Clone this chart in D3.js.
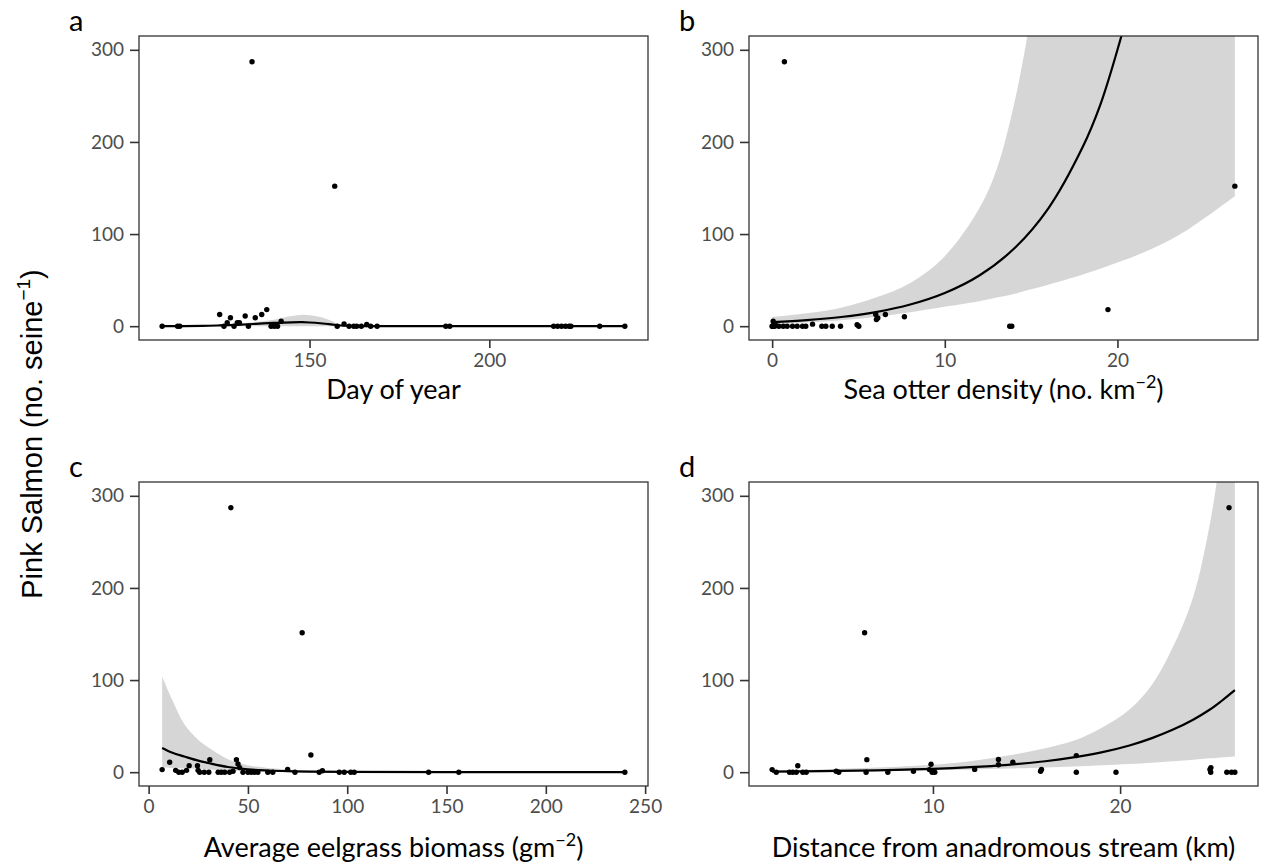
<!DOCTYPE html>
<html>
<head>
<meta charset="utf-8">
<script src="https://cdn.jsdelivr.net/npm/d3@7"></script>
<style>
  body { margin: 0; background: #fff; }
  svg text { font-family: Lato, "Open Sans", sans-serif; }
</style>
</head>
<body>
<svg id="svg" width="1263" height="865"></svg>
<script>
// counts are the same seines in every panel
var dayX = [109.0, 113.3, 113.9, 125.0, 126.2, 127.1, 128.0, 129.0, 129.9, 130.5, 132.1, 133.0, 134.0,
  134.9, 136.7, 138.1, 139.3, 139.8, 140.2, 141.1, 142.1, 157.0, 157.7, 159.6, 161.0, 162.3, 163.1,
  164.4, 165.9, 167.0, 168.8, 187.9, 189.0, 217.9, 219.0, 220.1, 221.2, 222.2, 222.7, 230.7, 237.7];
var dayY = [0, 0, 0, 12.6, 0, 3.8, 9.2, 0, 3.8, 3.8, 11, 0, 287,
  9.2, 12.6, 18, 0, 1.4, 0, 0, 5.4, 152, 0, 2.5, 0, 0, 0,
  0, 1.8, 0, 0, 0, 0, 0, 0, 0, 0, 0, 0, 0, 0];
var dayFitX = [109, 120, 125, 130, 135, 140, 145, 148, 150, 153, 156, 158, 162, 170, 200, 237.7];
var dayFit  = [0, 0.3, 0.8, 1.5, 2.5, 3.5, 4.2, 4.3, 4.0, 3.2, 2.0, 1.0, 0.4, 0.1, 0, 0];
var dayLo   = [0, 0, 0, 0, 0, 0, 0, 0, 0, 0, 0, 0, 0, 0, 0, 0];
var dayHi   = [0.5, 1.2, 2, 3, 4.5, 7, 11, 12.5, 12, 10, 6, 2.5, 1, 0.6, 0.3, 0.3];

var otterX = [0.0, 0.02, 0.06, 0.06, 0.1, 0.15, 0.2, 0.39, 0.64, 0.71, 0.87, 1.18, 1.45, 1.76, 1.95,
  2.34, 2.88, 3.11, 3.48, 3.96, 4.92, 5.02, 6.0, 6.04, 6.12, 6.56, 7.66, 13.76, 13.88, 19.45, 26.8];
var otterY = [0, 0, 5.4, 0, 2, 0, 1, 0, 0, 287, 0, 0, 0, 0, 0,
  2.2, 0, 0, 0, 0, 1.5, 0, 12.6, 7.2, 9, 12.6, 10.3, 0, 0, 18, 152];
var otterFitX = [0, 2, 4, 6, 8, 10, 12, 14, 16, 18, 19, 20, 21, 22, 24, 26.8];
var otterFit  = [4.3, 6.6, 10, 15.3, 23.5, 36, 55, 84, 128, 195, 240, 300, 370, 455, 690, 1250];
var otterBandX = [0, 2, 4, 6, 8, 10, 12, 13, 14, 15, 16, 18, 20, 22, 24, 26.8];
var otterLo   = [2.5, 4, 6.5, 10, 15, 21, 27, 31, 35, 40, 45, 56, 69, 84, 104, 141];
var otterHi   = [10, 14, 20, 31, 47, 76, 128, 170, 240, 340, 480, 800, 1300, 2000, 2000, 2000];

var eelX = [6.8, 10.6, 13.6, 15.2, 16.9, 19.1, 20.4, 24.6, 24.9, 25.7, 28.0, 30.3, 30.8, 35, 36.6,
  38.3, 40.8, 41.4, 42.5, 44.2, 45.0, 45.8, 47.5, 50, 51.7, 53.3, 55.0, 60.0, 62.5, 70, 73.7,
  77.3, 81.7, 85.9, 87.5, 96, 98.5, 101.8, 103.5, 141, 156.2, 239.8];
var eelY = [2.8, 10.8, 2, 0, 0, 2, 7.1, 7, 2, 0, 0, 0, 13.6, 0, 0,
  0, 0, 287, 1, 13.6, 9, 5, 0, 0, 0, 0, 0, 0, 0, 3, 0,
  151.4, 18.7, 0, 1.5, 0, 0, 0, 0, 0, 0, 0];
var eelFitX = [6.8, 12, 18, 25, 30, 40, 50, 60, 70, 80, 100, 150, 239.8];
var eelFit  = [26.3, 21, 17, 12.5, 10, 5.6, 3, 1.8, 1.1, 0.7, 0.3, 0.05, 0];
var eelLo   = [5, 4.5, 4, 3.5, 3, 2, 1, 0.6, 0.3, 0.2, 0.05, 0, 0];
var eelHi   = [104, 78, 52, 35, 27, 14, 7.5, 4.6, 3, 2, 1, 0.2, 0.05];

var distX = [1.41, 1.63, 2.34, 2.51, 2.70, 2.78, 3.05, 3.23, 4.83, 4.97, 6.35, 6.43, 6.47, 7.59, 8.96,
  9.81, 9.9, 9.96, 10.1, 12.23, 13.5, 13.5, 14.27, 15.75, 15.8, 17.66, 17.66, 19.78, 24.8, 24.84,
  24.85, 25.7, 25.82, 25.95, 26.13];
var distY = [2.8, 0, 0, 0, 0, 7, 0, 0, 1, 0, 151.4, 0, 13.6, 0, 1,
  2.8, 8.6, 0, 0, 3, 13.7, 8, 10.8, 1, 3, 18, 0, 0, 3, 0,
  5, 0, 287, 0, 0];
var distFitX = [1.41, 4, 7, 10, 12, 14, 16, 17.5, 19, 20.5, 21.7, 22.8, 23.9, 24.8, 25.4, 26.13];
var distFit  = [0.65, 1.1, 2.0, 3.6, 5.4, 8.0, 11.9, 16, 21.5, 29, 37, 46, 57, 68, 77, 89];
var distLo   = [0.3, 0.6, 1.2, 2, 2.8, 3.9, 5.1, 6.1, 7.4, 8.9, 10.3, 11.8, 13.5, 15, 16, 17];
var distHi   = [2, 3, 5, 8, 12, 18, 26, 34, 48, 68, 95, 135, 190, 270, 350, 460];

var yTicks = [0, 100, 200, 300];
var yLimits = [0, 300];
var dayTicks = [150, 200];
var otterTicks = [0, 10, 20];
var eelTicks = [0, 50, 100, 150, 200, 250];
var distTicks = [10, 20];

var panels = [
  {tag: "a", col: 0, row: 0, xs: dayX, ys: dayY, fx: dayFitX, fit: dayFit, rx: dayFitX, lo: dayLo, hi: dayHi,
   ticks: dayTicks, title: "Day of year", sup: null},
  {tag: "b", col: 1, row: 0, xs: otterX, ys: otterY, fx: otterFitX, fit: otterFit, rx: otterBandX, lo: otterLo, hi: otterHi,
   ticks: otterTicks, title: "Sea otter density (no. km", sup: "\u22122"},
  {tag: "c", col: 0, row: 1, xs: eelX, ys: eelY, fx: eelFitX, fit: eelFit, rx: eelFitX, lo: eelLo, hi: eelHi,
   ticks: eelTicks, title: "Average eelgrass biomass (gm", sup: "\u22122"},
  {tag: "d", col: 1, row: 1, xs: distX, ys: distY, fx: distFitX, fit: distFit, rx: distFitX, lo: distLo, hi: distHi,
   ticks: distTicks, title: "Distance from anadromous stream (km)", sup: null}
];

var colLeft = [139, 749];
var rowTop = [36, 482];
var titleGap = [59, 71];
var pw = 509, ph = 304;

var svg = d3.select("#svg");

// ggplot style 5% expansion
var expand = function(ext) {
  var r = ext[1] - ext[0];
  return [ext[0] - 0.05 * r, ext[1] + 0.05 * r];
};

panels.forEach(function(p, i) {
  var left = colLeft[p.col], top = rowTop[p.row];

  var x = d3.scaleLinear()
    .domain(expand(d3.extent(p.xs)))
    .range([left, left + pw]);
  var y = d3.scaleLinear()
    .domain(expand(yLimits))
    .range([top + ph, top]);

  svg.append("clipPath")
      .attr("id", "clip" + i)
    .append("rect")
      .attr("x", left).attr("y", top)
      .attr("width", pw).attr("height", ph);

  var g = svg.append("g").attr("clip-path", "url(#clip" + i + ")");

  var band = p.rx.map((v, k) => ({x: v, lo: p.lo[k], hi: p.hi[k]}));
  g.append("path")
      .datum(band)
      .attr("fill", "#999999")
      .attr("fill-opacity", 0.4)
      .attr("d", d3.area()
        .curve(d3.curveCatmullRom)
        .x(d => x(d.x))
        .y0(d => y(d.lo))
        .y1(d => y(d.hi)));

  var pts = p.xs.map((v, k) => ({x: v, y: p.ys[k]}));
  g.selectAll("circle")
    .data(pts)
    .join("circle")
      .attr("cx", d => x(d.x))
      .attr("cy", d => y(d.y))
      .attr("r", 2.7)
      .attr("fill", "black");

  var line = p.fx.map((v, k) => ({x: v, y: p.fit[k]}));
  g.append("path")
      .datum(line)
      .attr("fill", "none")
      .attr("stroke", "black")
      .attr("stroke-width", 2.2)
      .attr("d", d3.line()
        .curve(d3.curveCatmullRom)
        .x(d => x(d.x))
        .y(d => y(d.y)));

  // panel border
  svg.append("rect")
      .attr("x", left).attr("y", top)
      .attr("width", pw).attr("height", ph)
      .attr("fill", "none")
      .attr("stroke", "#333333")
      .attr("stroke-width", 1.3);

  var ax = svg.append("g")
      .attr("transform", "translate(0," + (top + ph) + ")")
      .call(d3.axisBottom(x).tickValues(p.ticks).tickFormat(d3.format("d")).tickSize(8).tickPadding(6));
  var ay = svg.append("g")
      .attr("transform", "translate(" + left + ",0)")
      .call(d3.axisLeft(y).tickValues(yTicks).tickSize(9).tickPadding(6));

  [ax, ay].forEach(function(a) {
    a.select(".domain").remove();
    a.selectAll(".tick line").attr("stroke", "#333333").attr("stroke-width", 1.6);
    a.selectAll(".tick text")
      .attr("fill", "#4d4d4d")
      .style("font-family", "Lato, sans-serif")
      .style("font-size", "19px");
  });

  // x axis title
  var t = svg.append("text")
      .attr("x", left + pw / 2)
      .attr("y", top + ph + titleGap[p.row])
      .attr("text-anchor", "middle")
      .attr("fill", "black")
      .style("font-size", "27px")
      .text(p.title);
  if (p.sup) {
    t.append("tspan").attr("dy", -11).style("font-size", "18px").text(p.sup);
    t.append("tspan").attr("dy", 11).text(")");
  }

  // panel letter
  svg.append("text")
      .attr("x", left - 70)
      .attr("y", top - 5)
      .attr("fill", "black")
      .style("font-size", "29px")
      .text(p.tag);
});

var yt = svg.append("text")
    .attr("transform", "translate(42,434) rotate(-90)")
    .attr("text-anchor", "middle")
    .attr("fill", "black")
    .style("font-family", "'Liberation Sans', Arial, sans-serif")
    .style("font-size", "29px")
    .text("Pink Salmon (no. seine");
yt.append("tspan").attr("dy", -12).style("font-size", "19px").text("\u22121");
yt.append("tspan").attr("dy", 12).text(")");
</script>
</body>
</html>
